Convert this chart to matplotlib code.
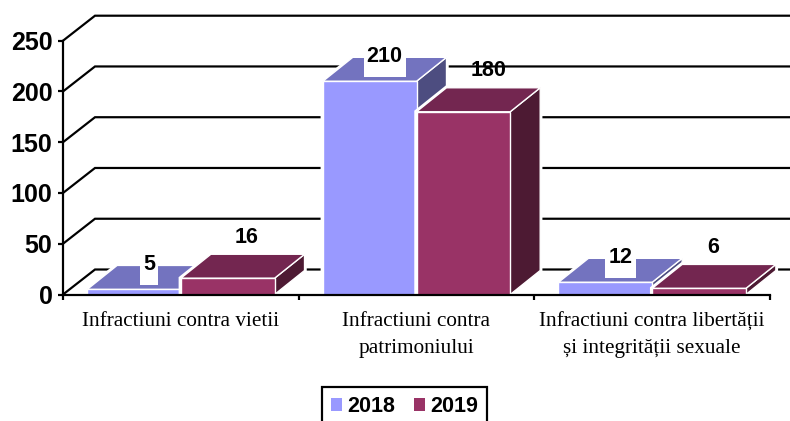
#!/usr/bin/env python3
import matplotlib
matplotlib.use("Agg")
import matplotlib.pyplot as plt
from matplotlib.patches import Polygon, Rectangle, Patch

categories = ["Infractiuni contra vietii",
              "Infractiuni contra\npatrimoniului",
              "Infractiuni contra libertății\nși integrității sexuale"]
v2018 = [5, 210, 12]
v2019 = [16, 180, 6]
yticks = [0, 50, 100, 150, 200, 250]

front = {"2018": "#9999FF", "2019": "#993366"}
top = {"2018": "#7373BF", "2019": "#732650"}
side = {"2018": "#4D4D80", "2019": "#4D1A33"}

W, H = 790, 421
fig = plt.figure(figsize=(W/100, H/100), dpi=100)
# axes box in pixels: x 63..770, y 294.5..40.7
ax = fig.add_axes([63/W, 1-294.5/H, (770-63)/W, (294.5-40.7)/H])
ax.set_xlim(0, 3)
ax.set_ylim(0, 250)

px = 3/(770-63)            # one pixel in x data units
py = 250/(294.5-40.7)      # one pixel in y data units
wall_dx, wall_dy = 32*px, 25*py
bar_dx, bar_dy = 30*px, 24*py
bw = 93.7*px
line_px = 2.2*72/100

# back wall lines
for t in yticks:
    ax.plot([0, wall_dx, 3+wall_dx], [t, t+wall_dy, t+wall_dy], color="black",
            lw=line_px, clip_on=False, zorder=1, solid_joinstyle="miter")


def box(x, h, name, z):
    f = [(x, 0), (x+bw, 0), (x+bw, h), (x, h)]
    tp = [(x, h), (x+bw, h), (x+bw+bar_dx, h+bar_dy), (x+bar_dx, h+bar_dy)]
    sd = [(x+bw, 0), (x+bw+bar_dx, bar_dy), (x+bw+bar_dx, h+bar_dy), (x+bw, h)]
    outline = [(x, 0), (x+bw, 0), (x+bw+bar_dx, bar_dy), (x+bw+bar_dx, h+bar_dy),
               (x+bar_dx, h+bar_dy), (x, h)]
    ax.add_patch(Polygon(outline, fc="white", ec="white", lw=3.2, clip_on=False, zorder=z))
    for pts, col in [(sd, side[name]), (tp, top[name]), (f, front[name])]:
        ax.add_patch(Polygon(pts, fc=col, ec="white", lw=1.0, clip_on=False, zorder=z+0.1))


lab_2018 = [(15, 25), (15, 25), (15, 25)]
lab_2019 = [(19, 41), (25, 41), (14, 41)]
box_w = [18, 42, 31]

for i in range(3):
    box(i+0.5-bw, v2018[i], "2018", 2+i)
    box(i+0.5, v2019[i], "2019", 2.5+i)
    # white box behind the 2018 label, sits on the bar top
    cx = i+0.5-bw/2+15*px
    cy = v2018[i]+25*py
    ax.add_patch(Rectangle((cx-box_w[i]/2*px, cy-21*py), box_w[i]*px, 42*py, fc="white",
                           ec="none", clip_on=False, zorder=6))
    ax.annotate(str(v2018[i]), (i+0.5-bw/2, v2018[i]), xytext=(lab_2018[i][0]*0.72, lab_2018[i][1]*0.72),
                textcoords="offset points", ha="center", va="center", fontsize=15.5,
                fontweight="bold", family="Liberation Sans", zorder=7, annotation_clip=False)
    ax.annotate(str(v2019[i]), (i+0.5+bw/2, v2019[i]), xytext=(lab_2019[i][0]*0.72, lab_2019[i][1]*0.72),
                textcoords="offset points", ha="center", va="center", fontsize=15.5,
                fontweight="bold", family="Liberation Sans", zorder=7, annotation_clip=False)

for s in ["top", "right"]:
    ax.spines[s].set_visible(False)
for s in ["left", "bottom"]:
    ax.spines[s].set_linewidth(line_px)
    ax.spines[s].set_zorder(8)

ax.set_yticks(yticks)
ax.set_xticks([0, 1, 2, 3])
ax.set_xticklabels([])
ax.tick_params(axis="both", which="major", length=3.6, width=line_px)
ax.tick_params(axis="y", pad=4)
for lb in ax.get_yticklabels():
    lb.set_fontsize(18)
    lb.set_fontweight("bold")
    lb.set_family("Liberation Sans")
ax.set_xticks([0.5, 1.5, 2.5], minor=True)
ax.set_xticklabels(categories, minor=True, fontsize=15.3, family="Liberation Serif", linespacing=1.55)
ax.tick_params(axis="x", which="minor", length=0, pad=12.7)

handles = [Patch(fc=front["2018"], ec="none", label="2018"),
           Patch(fc=front["2019"], ec="none", label="2019")]
leg = fig.legend(handles=handles, loc="upper center", bbox_to_anchor=(404.5/W, 1-387/H), ncol=2,
                 prop={"family": "Liberation Sans", "weight": "bold", "size": 15.5},
                 handlelength=0.52, handleheight=0.52, handletextpad=0.25, columnspacing=0.85,
                 borderpad=0.42, borderaxespad=0, fancybox=False, framealpha=1, edgecolor="black")
leg.get_frame().set_linewidth(line_px)

fig.savefig("out.png", dpi=100)
